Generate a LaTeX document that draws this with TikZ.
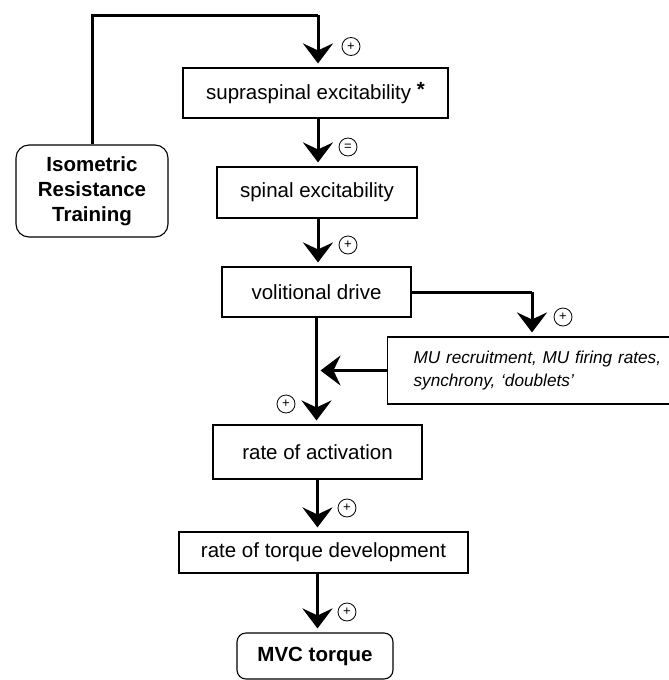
\documentclass[tikz,border=0pt]{standalone}
\usepackage{fontspec}
\setmainfont{Liberation Sans}
\usetikzlibrary{arrows.meta, positioning}

\begin{document}
\begin{tikzpicture}[
  x=1pt, y=1pt,
  font=\fontsize{20.5}{25}\selectfont,
  box/.style={
    rectangle, draw, line width=1.1pt,
    align=center, inner sep=0pt
  },
  roundbox/.style={box, rounded corners=9pt, font=\fontsize{20.5}{25}\selectfont\bfseries},
  flow/.style={line width=3pt, -{Stealth[length=20pt, width=30pt, inset=7pt]}, shorten >=4pt},
  wire/.style={line width=3pt},
  sign/.style={circle, draw, line width=0.8pt, minimum size=18pt, inner sep=0pt,
    font=\fontsize{13}{13}\selectfont},
]
\useasboundingbox (0,0) rectangle (669,-680);

% --- main column ---
\node[box, minimum width=265, minimum height=50] (SUP) at (315.5,-93) {supraspinal excitability \raisebox{3pt}{\bfseries *}};
\node[box, minimum width=200, minimum height=51] (SPI) at (317,-192.5) {spinal excitability};
\node[box, minimum width=189, minimum height=50] (VOL) at (316.5,-292) {volitional drive};
\node[box, minimum width=209, minimum height=54] (ACT) at (317.5,-452) {rate of activation};
\node[box, minimum width=289, minimum height=41] (RTD) at (323.5,-552.5) {rate of torque development};
\node[roundbox, minimum width=156, minimum height=46] (MVC) at (315,-656) {MVC torque};

% --- training + neural factors ---
\node[roundbox, rounded corners=13pt, minimum width=152, minimum height=92] (IRT) at (92,-191) {Isometric\\ Resistance\\ Training};
\node[box, anchor=west, align=left, text width=270, inner xsep=26pt, minimum height=67,
  font=\fontsize{17.2}{23}\selectfont\itshape] (MU) at (387,-370.5)
  {MU recruitment, MU firing rates,\\ synchrony, `doublets'};

% --- helper points ---
\coordinate (TOP) at (318,-15);
\coordinate (SIDE) at (532,-292);

% --- arrows ---
\draw[wire] (IRT.north) |- (TOP);
\draw[flow] (TOP) -- (TOP |- SUP.north);
\draw[flow] (SUP.south -| TOP) -- (SPI.north -| TOP);
\draw[flow] (SPI.south -| TOP) -- (VOL.north -| TOP);
\draw[wire] (VOL.east) -- (SIDE);
\draw[flow] (SIDE) -- (SIDE |- MU.north);
\draw[flow] (VOL.south) -- (VOL.south |- ACT.north);
\draw[flow] (MU.west) -- (MU.west -| VOL.south);
\draw[flow] (ACT.south) -- (ACT.south |- RTD.north);
\draw[flow] (RTD.south -| ACT.south) -- (ACT.south |- MVC.north);

% --- signs ---
\node[sign] (S1) at (351,-46.5) {+};
\node[sign] (S2) at (348,-147) {=};
\node[sign] (S3) at (348,-245) {+};
\node[sign] (S4) at (563,-317) {+};
\node[sign] (S5) at (286,-404) {+};
\node[sign] (S6) at (347,-508) {+};
\node[sign] (S7) at (347,-612) {+};

\end{tikzpicture}
\end{document}
